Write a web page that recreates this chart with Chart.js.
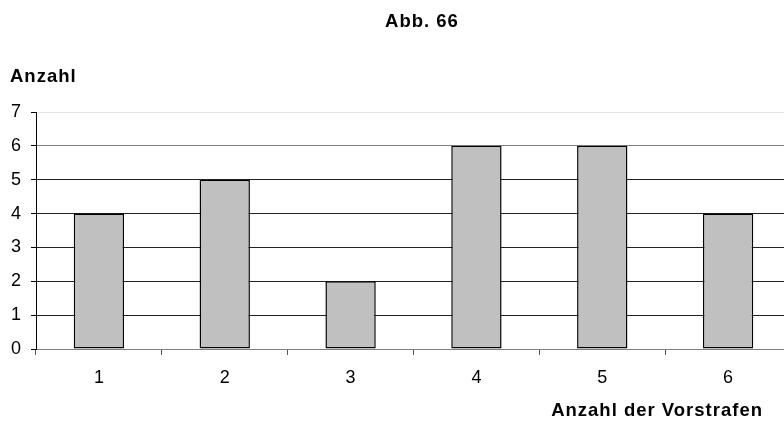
<!DOCTYPE html>
<html><head><meta charset="utf-8">
<script src="https://cdn.jsdelivr.net/npm/chart.js@4/dist/chart.umd.min.js"></script>
<style>html,body{margin:0;padding:0;overflow:hidden;background:#fff}
#wrap{position:relative;width:810px;height:430px}</style></head>
<body><div id="wrap"><canvas id="c" width="810" height="430"></canvas></div>
<script>
const categories = ['1', '2', '3', '4', '5', '6'];
const counts = [4, 5, 2, 6, 6, 4];
const yMin = 0, yMax = 7, yStep = 1;
const titleText = 'Abb. 66';
const yTitle = 'Anzahl';
const xTitle = 'Anzahl der Vorstrafen';

const FONT = '"Liberation Sans", Arial, sans-serif';

const textPlugin = {
  id: 'texts',
  afterDraw(chart) {
    const ctx = chart.ctx;
    ctx.save();
    ctx.fillStyle = '#000';
    ctx.font = 'bold 18.5px ' + FONT;
    ctx.letterSpacing = '1px';
    ctx.textBaseline = 'middle';
    ctx.textAlign = 'left';
    let w = ctx.measureText(titleText).width;
    ctx.fillText(titleText, 422 - w / 2, 22);
    ctx.fillText(yTitle, 10, 77);
    w = ctx.measureText(xTitle).width;
    ctx.fillText(xTitle, 763 - w, 411);
    ctx.restore();
  }
};

new Chart(document.getElementById('c'), {
  type: 'bar',
  data: {
    labels: categories,
    datasets: [{
      data: counts,
      backgroundColor: '#c0c0c0',
      borderColor: '#000',
      borderWidth: 1.5,
      borderSkipped: false,
      barPercentage: 0.4,
      categoryPercentage: 1.0
    }]
  },
  options: {
    responsive: false,
    animation: false,
    devicePixelRatio: 1,
    layout: { padding: { top: 112, left: 0, right: 19, bottom: 0 } },
    plugins: { legend: { display: false }, tooltip: { enabled: false }, title: { display: false } },
    scales: {
      x: {
        offset: true,
        grid: { display: true, drawOnChartArea: false, drawTicks: true, tickLength: 6, offset: true, color: '#555' },
        border: { display: true, color: '#808080' },
        ticks: { color: '#000', font: { family: FONT, size: 18 }, padding: 12 },
        afterFit(s) { s.height = 81; }
      },
      y: {
        min: yMin, max: yMax,
        ticks: { stepSize: yStep, color: '#000', font: { family: FONT, size: 18 }, padding: 10 },
        grid: {
          tickLength: 5,
          tickColor: '#000',
          color(ctx) {
            const v = ctx.tick ? ctx.tick.value : 0;
            if (v === 7) return '#e6e6e6';
            if (v === 6) return '#808080';
            if (v === 0) return '#808080';
            return '#222';
          }
        },
        border: { display: true, color: '#000' },
        afterFit(s) { s.width = 36; }
      }
    }
  },
  plugins: [textPlugin]
});
</script></body></html>
